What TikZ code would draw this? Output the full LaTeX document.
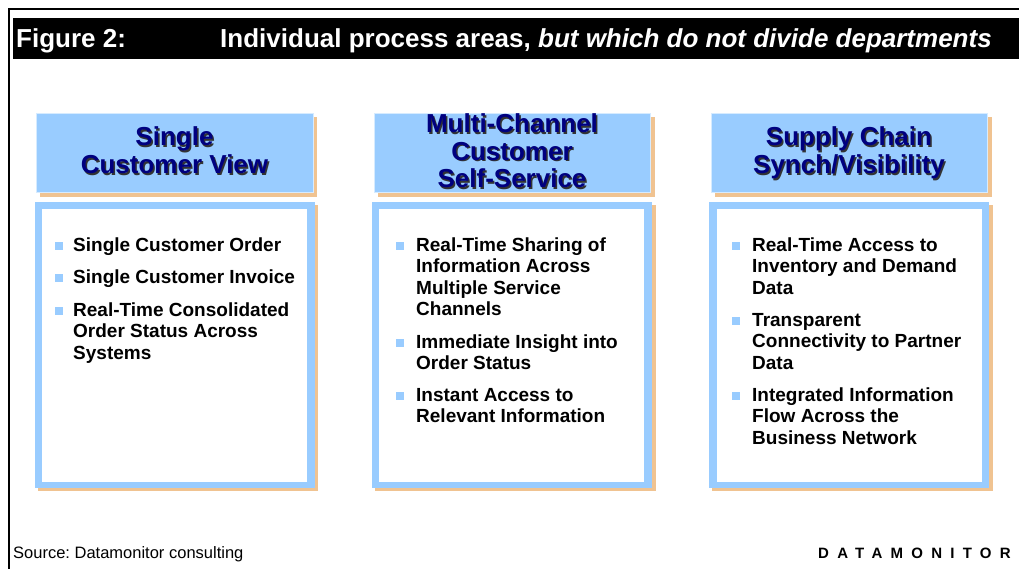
\documentclass[tikz,border=0pt]{standalone}
\usepackage{fontspec}
\setmainfont{Liberation Sans}
\usetikzlibrary{positioning}
\frenchspacing
\definecolor{paleblue}{RGB}{153,204,255}
\definecolor{shadeorange}{RGB}{240,195,145}
\definecolor{headnavy}{RGB}{0,0,128}

\tikzset{
  headbox/.style={fill=paleblue,draw=paleblue!40!white,line width=0.6pt},
  headtext/.style={font=\bfseries\fontsize{26}{28}\selectfont,text=headnavy,align=center,inner sep=0pt,anchor=base},
  headshade/.style={font=\bfseries\fontsize{26}{28}\selectfont,text=black!80,align=center,inner sep=0pt,anchor=base},
  itemtext/.style={font=\bfseries\fontsize{19}{21.3}\selectfont,align=left,inner sep=0pt,anchor=base west},
  bulletsq/.style={fill=paleblue,minimum size=8pt,inner sep=0pt}
}

\begin{document}
\begin{tikzpicture}[x=1pt,y=-1pt]
  \useasboundingbox (0,0) rectangle (1019,569);
  % frame
  \draw[line width=1.5pt] (1019,9) -- (9,9) -- (9,569);
  % title bar
  \fill[black] (13,18) rectangle (1019,59);
  \node[font=\bfseries\fontsize{26}{28}\selectfont,text=white,inner sep=0pt,anchor=base west] (fig) at (16,48) {Figure 2:};
  \node[font=\bfseries\fontsize{26}{28}\selectfont,text=white,inner sep=0pt,anchor=base west] (title) at (220,48) {Individual process areas, \textit{but which do not divide departments}};

  % ---- column 1 ----
  \fill[shadeorange] (40,117) rectangle (317,197);
  \draw[headbox] (36,113) rectangle (313,192);
  \node[headshade] at (176,175.5) {Single\\Customer View};
  \node[headtext] (head1) at (174.5,174) {Single\\Customer View};
  \fill[shadeorange] (38,205) rectangle (318,491);
  \fill[paleblue] (35,202) rectangle (315,488);
  \fill[white] (42,209) rectangle (307,482);
  \node[itemtext] (a1) at (73,251.5) {Single Customer Order};
  \node[itemtext] (a2) at (73,283.5) {Single Customer Invoice};
  \node[itemtext] (a3) at (73,359.1) {Real-Time Consolidated\\Order Status Across\\Systems};
  \foreach \y in {251.5,283.5,316.5} \node[bulletsq] at (59,\y-5.5) {};

  % ---- column 2 ----
  \fill[shadeorange] (378,117) rectangle (655,197);
  \draw[headbox] (374,113) rectangle (650,192);
  \node[headshade,font=\bfseries\fontsize{26}{27.5}\selectfont] at (513.5,189.5) {Multi-Channel\\Customer\\Self-Service};
  \node[headtext,font=\bfseries\fontsize{26}{27.5}\selectfont] (head2) at (512,188) {Multi-Channel\\Customer\\Self-Service};
  \fill[shadeorange] (375,205) rectangle (656,491);
  \fill[paleblue] (372,202) rectangle (652,488);
  \fill[white] (379,209) rectangle (644,482);
  \node[itemtext] (b1) at (416,315.4) {Real-Time Sharing of\\Information Across\\Multiple Service\\Channels};
  \node[itemtext] (b2) at (416,369.8) {Immediate Insight into\\Order Status};
  \node[itemtext] (b3) at (416,422.8) {Instant Access to\\Relevant Information};
  \foreach \y in {251.5,348.5,401.5} \node[bulletsq] at (400,\y-5.5) {};

  % ---- column 3 ----
  \fill[shadeorange] (715,117) rectangle (992,197);
  \draw[headbox] (711,113) rectangle (987,192);
  \node[headshade] at (850.5,175.5) {Supply Chain\\Synch/Visibility};
  \node[headtext] (head3) at (849,174) {Supply Chain\\Synch/Visibility};
  \fill[shadeorange] (712,205) rectangle (993,491);
  \fill[paleblue] (709,202) rectangle (989,488);
  \fill[white] (717,209) rectangle (982,482);
  \node[itemtext] (c1) at (752,294.1) {Real-Time Access to\\Inventory and Demand\\Data};
  \node[itemtext] (c2) at (752,369.1) {Transparent\\Connectivity to Partner\\Data};
  \node[itemtext] (c3) at (752,444.1) {Integrated Information\\Flow Across the\\Business Network};
  \foreach \y in {251.5,326.5,401.5} \node[bulletsq] at (736,\y-5.5) {};

  % footer
  \node[font=\fontsize{16.5}{20}\selectfont,inner sep=0pt,anchor=base west] (src) at (13,558) {Source: Datamonitor consulting};
  \node[font=\bfseries\fontsize{15}{18}\selectfont\addfontfeature{LetterSpace=55},inner sep=0pt,anchor=base west] (brand) at (818,558) {DATAMONITOR};
\end{tikzpicture}
\end{document}
